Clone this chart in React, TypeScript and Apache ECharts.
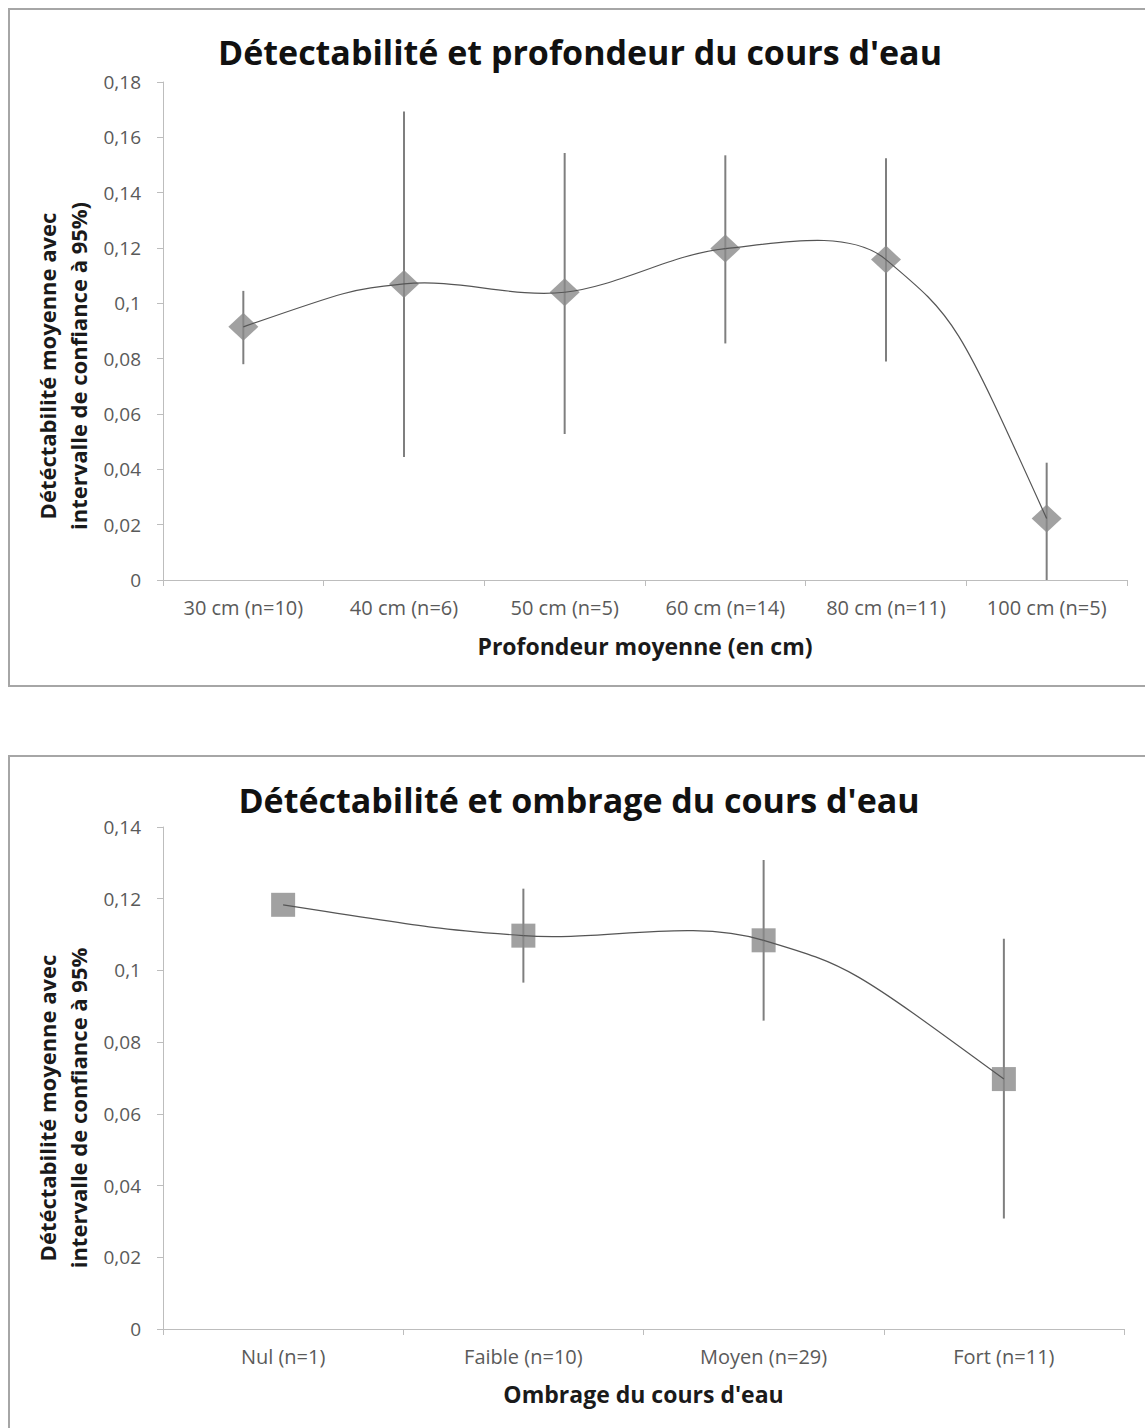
import React, { useEffect, useRef } from "react";
import * as echarts from "echarts";

const depthCategories = ["30 cm (n=10)", "40 cm (n=6)", "50 cm (n=5)", "60 cm (n=14)", "80 cm (n=11)", "100 cm (n=5)"];
const depthMean = [0.0915, 0.107, 0.104, 0.1198, 0.1158, 0.0222];
const depthLow = [0.078, 0.0445, 0.0528, 0.0855, 0.079, 0];
const depthHigh = [0.1045, 0.1693, 0.1543, 0.1535, 0.1524, 0.0424];

const shadeCategories = ["Nul (n=1)", "Faible (n=10)", "Moyen (n=29)", "Fort (n=11)"];
const shadeMean = [0.1183, 0.1097, 0.1084, 0.0697];
const shadeLow: (number | null)[] = [null, 0.0966, 0.086, 0.0308];
const shadeHigh: (number | null)[] = [null, 0.1228, 0.1308, 0.1088];

const topTitle = "Détectabilité et profondeur du cours d'eau";
const bottomTitle = "Détéctabilité et ombrage du cours d'eau";
const topYName = "Détéctabilité moyenne avec\nintervalle de confiance à 95%)";
const bottomYName = "Détéctabilité moyenne avec\nintervalle de confiance à 95%";
const topXName = "Profondeur moyenne (en cm)";
const bottomXName = "Ombrage du cours d'eau";

const FONT = "'Open Sans', 'Noto Sans', sans-serif";
const AXIS_COLOR = "#bdbdbd";
const LABEL_COLOR = "#5a5a5a";
const MARKER_COLOR = "#8a8a8a";
const LINE_COLOR = "#555555";
const ERR_COLOR = "#7f7f7f";
const SMOOTH = 1 / 3;
const END_PULL = 1;

const fmt = (v: number) => String(+v.toFixed(4)).replace(".", ",");

function errorRender(params: any, api: any) {
  const lo = api.value(1);
  const hi = api.value(2);
  if (lo == null || hi == null || isNaN(lo) || isNaN(hi)) return null;
  const idx = api.value(0);
  const p1 = api.coord([idx, lo]);
  const p2 = api.coord([idx, hi]);
  return {
    type: "line",
    shape: { x1: p1[0], y1: p1[1], x2: p2[0], y2: p2[1] },
    style: { stroke: ERR_COLOR, lineWidth: 2 },
  };
}

// Smoothed curve (spreadsheet-like spline, length-weighted tangents) through the means, via the axis scales.
function makeCurveRender(values: number[]) {
  return (params: any, api: any) => {
    if (params.dataIndex !== 0) return null;
    const pts = values.map((v, i) => api.coord([i, v]));
    const n = pts.length;
    const cpPrev: (number[] | null)[] = new Array(n).fill(null);
    const cpNext: (number[] | null)[] = new Array(n).fill(null);
    for (let i = 1; i < n - 1; i++) {
      const a = pts[i - 1], p = pts[i], b = pts[i + 1];
      const vx = b[0] - a[0], vy = b[1] - a[1];
      const lp = Math.hypot(p[0] - a[0], p[1] - a[1]);
      const ln = Math.hypot(b[0] - p[0], b[1] - p[1]);
      const r = ln / (lp + ln);
      cpNext[i] = [p[0] + vx * SMOOTH * r, p[1] + vy * SMOOTH * r];
      cpPrev[i] = [p[0] - vx * SMOOTH * (1 - r), p[1] - vy * SMOOTH * (1 - r)];
    }
    const children: any[] = [];
    for (let i = 0; i < n - 1; i++) {
      const p0 = pts[i];
      const p1 = pts[i + 1];
      let c1 = cpNext[i];
      let c2 = cpPrev[i + 1];
      if (!c1 && c2) c1 = [p0[0] + (c2[0] - p0[0]) * END_PULL, p0[1] + (c2[1] - p0[1]) * END_PULL];
      if (!c2 && c1) c2 = [p1[0] + (c1[0] - p1[0]) * END_PULL, p1[1] + (c1[1] - p1[1]) * END_PULL];
      if (!c1 || !c2) {
        c1 = p0;
        c2 = p1;
      }
      children.push({
        type: "bezierCurve",
        shape: { x1: p0[0], y1: p0[1], cpx1: c1[0], cpy1: c1[1], cpx2: c2[0], cpy2: c2[1], x2: p1[0], y2: p1[1] },
        style: { stroke: LINE_COLOR, lineWidth: 1.2, fill: "none" },
      });
    }
    return { type: "group", children };
  };
}

export default function App() {
  const ref = useRef<HTMLDivElement>(null);
  useEffect(() => {
    if (!ref.current) return;
    const chart = echarts.init(ref.current, null, { renderer: "svg" });

    const yAxisBase = {
      type: "value",
      min: 0,
      splitLine: { show: false },
      axisLine: { show: true, lineStyle: { color: AXIS_COLOR, width: 1 } },
      axisTick: { show: true, length: 6, lineStyle: { color: AXIS_COLOR } },
      axisLabel: { color: LABEL_COLOR, fontFamily: FONT, fontSize: 19, margin: 22, formatter: fmt },
    };
    const xAxisBase = {
      type: "category",
      boundaryGap: true,
      axisLine: { show: true, lineStyle: { color: AXIS_COLOR, width: 1 } },
      axisTick: { show: true, length: 6, lineStyle: { color: AXIS_COLOR } },
      axisLabel: { color: LABEL_COLOR, fontFamily: FONT, fontSize: 20, margin: 17, interval: 0 },
      nameLocation: "middle",
      nameTextStyle: { color: "#1a1a1a", fontFamily: FONT, fontSize: 23, fontWeight: "bold" },
    };

    const option: any = {
      animation: false,
      backgroundColor: "#ffffff",
      grid: [
        { left: 163, top: 82, width: 964, height: 498 },
        { left: 163, top: 827, width: 961, height: 502 },
      ],
      xAxis: [
        { ...xAxisBase, gridIndex: 0, data: depthCategories, name: topXName, nameGap: 54 },
        { ...xAxisBase, gridIndex: 1, data: shadeCategories, name: bottomXName, nameGap: 53 },
      ],
      yAxis: [
        { ...yAxisBase, gridIndex: 0, max: 0.18, interval: 0.02 },
        { ...yAxisBase, gridIndex: 1, max: 0.14, interval: 0.02 },
      ],
      graphic: [
        { type: "rect", shape: { x: 9, y: 9, width: 1160, height: 677 }, style: { fill: "none", stroke: "#a6a6a6", lineWidth: 2 }, silent: true },
        { type: "rect", shape: { x: 9, y: 756, width: 1160, height: 700 }, style: { fill: "none", stroke: "#a6a6a6", lineWidth: 2 }, silent: true },
        {
          type: "text", x: 580, y: 52,
          style: { text: topTitle, fill: "#111", font: `bold 34px ${FONT}`, align: "center", verticalAlign: "middle" },
        },
        {
          type: "text", x: 579, y: 800,
          style: { text: bottomTitle, fill: "#111", font: `bold 34px ${FONT}`, align: "center", verticalAlign: "middle" },
        },
        {
          type: "text", x: 62, y: 366, rotation: Math.PI / 2,
          style: { text: topYName, fill: "#1a1a1a", font: `bold 22px ${FONT}`, lineHeight: 31, align: "center", verticalAlign: "middle" },
        },
        {
          type: "text", x: 62, y: 1108, rotation: Math.PI / 2,
          style: { text: bottomYName, fill: "#1a1a1a", font: `bold 22px ${FONT}`, lineHeight: 31, align: "center", verticalAlign: "middle" },
        },
      ],
      series: [
        {
          type: "custom", xAxisIndex: 0, yAxisIndex: 0, z: 1,
          renderItem: errorRender,
          encode: { x: 0, y: [1, 2] },
          data: depthCategories.map((_, i) => [i, depthLow[i], depthHigh[i]]),
        },
        {
          type: "scatter", xAxisIndex: 0, yAxisIndex: 0, z: 2,
          symbol: "diamond", symbolSize: [30, 28],
          itemStyle: { color: MARKER_COLOR },
          data: depthMean,
        },
        {
          type: "custom", xAxisIndex: 0, yAxisIndex: 0, z: 3,
          renderItem: makeCurveRender(depthMean),
          encode: { x: 0, y: 1 },
          data: depthMean.map((v, i) => [i, v]),
        },
        {
          type: "custom", xAxisIndex: 1, yAxisIndex: 1, z: 1,
          renderItem: errorRender,
          encode: { x: 0, y: [1, 2] },
          data: shadeCategories.map((_, i) => [i, shadeLow[i] == null ? "-" : shadeLow[i], shadeHigh[i] == null ? "-" : shadeHigh[i]]),
        },
        {
          type: "scatter", xAxisIndex: 1, yAxisIndex: 1, z: 2,
          symbol: "rect", symbolSize: 24,
          itemStyle: { color: MARKER_COLOR },
          data: shadeMean,
        },
        {
          type: "custom", xAxisIndex: 1, yAxisIndex: 1, z: 3,
          renderItem: makeCurveRender(shadeMean),
          encode: { x: 0, y: 1 },
          data: shadeMean.map((v, i) => [i, v]),
        },
      ],
    };
    chart.setOption(option);
    return () => chart.dispose();
  }, []);

  return (
    <div
      ref={ref}
      style={{ position: "absolute", left: 0, top: 0, width: 1145, height: 1428, background: "#fff" }}
    />
  );
}
